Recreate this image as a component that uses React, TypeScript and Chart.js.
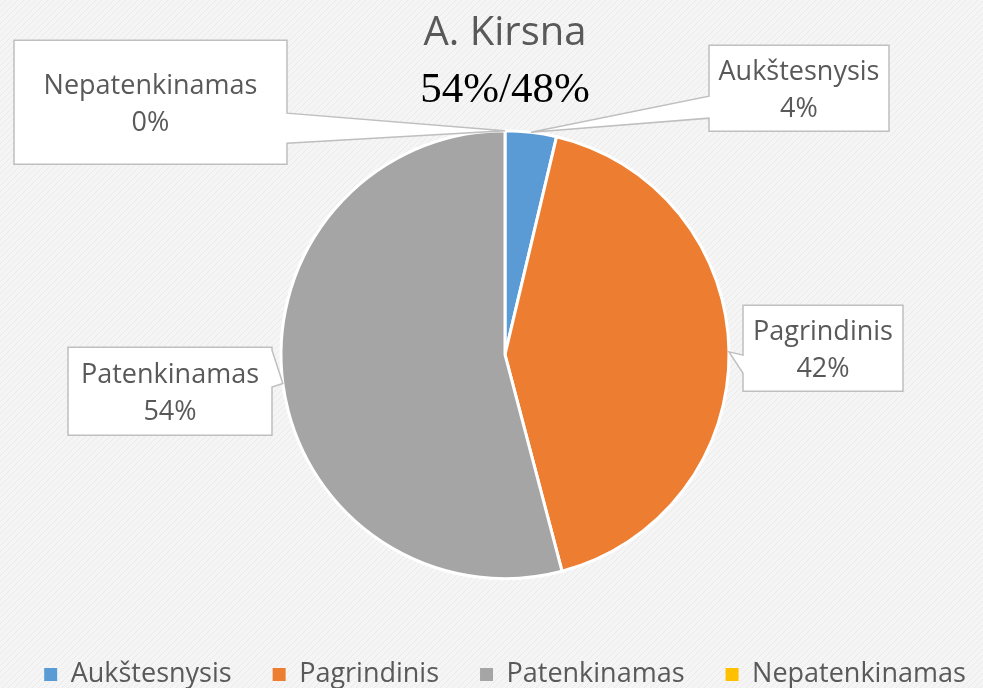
import { useEffect, useRef } from 'react';
import { Chart, registerables, DoughnutController } from 'chart.js';

Chart.register(...registerables);

const TITLE = 'A. Kirsna';
const SUBTITLE = '54%/48%';
const CATEGORIES = ['Aukštesnysis', 'Pagrindinis', 'Patenkinamas', 'Nepatenkinamas'];
const VALUES = [3.7, 42.2, 54.1, 0];
const COLORS = ['#5B9BD5', '#ED7D31', '#A5A5A5', '#FFC000'];

// Callout boxes (label annotations), placed relative to the pie centre
const CALLOUT_BOXES = [
  { dx: 204, dy: -309.5, w: 180, h: 86, side: 'left', a1: 51, a2: 73 },
  { dx: 238, dy: -49.5, w: 160, h: 86, side: 'left', a1: 50, a2: 68 },
  { dx: -437, dy: -7.5, w: 204, h: 88, side: 'right', a1: 3, a2: 40 },
  { dx: -491, dy: -314.5, w: 273, h: 124, side: 'right', a1: 73, a2: 103 },
];

const TEXT_COLOR = '#595959';
const SANS = '"Open Sans", "Noto Sans", sans-serif';

// The drawing surface is slightly larger than the visible frame (the frame clips it),
// so the plot sits where it does in the original picture.
const VIEW_W = 983;
const VIEW_H = 688;
const CANVAS_W = 1010;
const CANVAS_H = 698;

const backgroundPlugin = {
  id: 'texturedBackground',
  beforeDraw(chart: any) {
    const { ctx, width, height } = chart;
    const tile = document.createElement('canvas');
    tile.width = 6;
    tile.height = 6;
    const t = tile.getContext('2d')!;
    t.fillStyle = '#f5f5f5';
    t.fillRect(0, 0, 6, 6);
    t.strokeStyle = '#eaeaea';
    t.lineWidth = 1;
    t.beginPath();
    t.moveTo(0, 6);
    t.lineTo(6, 0);
    t.stroke();
    const pattern = ctx.createPattern(tile, 'repeat');
    ctx.save();
    ctx.fillStyle = pattern || '#f4f4f4';
    ctx.fillRect(0, 0, width, height);
    ctx.restore();
  },
};

const calloutPlugin = {
  id: 'callouts',
  afterDatasetsDraw(chart: any) {
    const { ctx } = chart;
    const meta = chart.getDatasetMeta(0);
    const data = chart.data.datasets[0].data as number[];
    const total = data.reduce((a, b) => a + b, 0);
    meta.data.forEach((arc: any, i: number) => {
      const c = CALLOUT_BOXES[i];
      if (!c) return;
      const { x, y, startAngle, endAngle, outerRadius } = arc.getProps(
        ['x', 'y', 'startAngle', 'endAngle', 'outerRadius'],
        true
      );
      const mid = (startAngle + endAngle) / 2;
      const tx = x + Math.cos(mid) * outerRadius;
      const ty = y + Math.sin(mid) * outerRadius;
      const bx = x + c.dx;
      const by = y + c.dy;
      ctx.save();
      ctx.beginPath();
      if (c.side === 'left') {
        ctx.moveTo(bx, by);
        ctx.lineTo(bx + c.w, by);
        ctx.lineTo(bx + c.w, by + c.h);
        ctx.lineTo(bx, by + c.h);
        ctx.lineTo(bx, by + c.a2);
        ctx.lineTo(tx, ty);
        ctx.lineTo(bx, by + c.a1);
      } else {
        ctx.moveTo(bx, by);
        ctx.lineTo(bx + c.w, by);
        ctx.lineTo(bx + c.w, by + c.a1);
        ctx.lineTo(tx, ty);
        ctx.lineTo(bx + c.w, by + c.a2);
        ctx.lineTo(bx + c.w, by + c.h);
        ctx.lineTo(bx, by + c.h);
      }
      ctx.closePath();
      ctx.fillStyle = '#ffffff';
      ctx.fill();
      ctx.strokeStyle = '#bfbfbf';
      ctx.lineWidth = 1.5;
      ctx.lineJoin = 'miter';
      ctx.stroke();

      const pct = total ? Math.round((data[i] / total) * 100) : 0;
      ctx.fillStyle = TEXT_COLOR;
      ctx.font = `27px ${SANS}`;
      ctx.textAlign = 'center';
      ctx.textBaseline = 'middle';
      const cx = bx + c.w / 2;
      const cy = by + c.h / 2;
      ctx.fillText(chart.data.labels[i], cx, cy - 15.5);
      ctx.fillText(pct + '%', cx, cy + 21.5);
      ctx.restore();
    });
  },
};

export default function App() {
  const ref = useRef<HTMLCanvasElement | null>(null);

  useEffect(() => {
    const canvas = ref.current;
    if (!canvas) return;
    const baseLabels = (DoughnutController as any).overrides.plugins.legend.labels.generateLabels;
    const chart = new Chart(canvas, {
      type: 'pie',
      data: {
        labels: CATEGORIES,
        datasets: [
          {
            data: VALUES,
            backgroundColor: COLORS,
            borderColor: '#ffffff',
            borderWidth: 3,
            radius: 224,
          } as any,
        ],
      },
      options: {
        responsive: false,
        animation: false,
        devicePixelRatio: 1,
        layout: { padding: 0 },
        plugins: {
          tooltip: { enabled: false },
          title: {
            display: true,
            text: TITLE,
            color: TEXT_COLOR,
            font: { family: SANS, size: 40, weight: 'normal', lineHeight: 1.2 },
            padding: { top: 10, bottom: 30.3 },
          },
          subtitle: {
            display: true,
            text: SUBTITLE,
            color: '#000000',
            font: { family: '"Liberation Serif", "Times New Roman", serif', size: 43, weight: 'normal', lineHeight: 0.1 },
            padding: { top: 0, bottom: 0 },
          },
          legend: {
            display: true,
            position: 'bottom',
            title: { display: true, text: '', font: { size: 3, lineHeight: 1.1 }, padding: 0 },
            labels: {
              color: TEXT_COLOR,
              font: { family: SANS, size: 27 },
              boxWidth: 13,
              boxHeight: 13,
              padding: 41,
              generateLabels: (c: any) =>
                baseLabels(c).map((it: any) => ({ ...it, lineWidth: 0 })),
            },
          },
        },
      },
      plugins: [backgroundPlugin, calloutPlugin],
    });
    return () => chart.destroy();
  }, []);

  return (
    <div style={{ position: 'fixed', left: 0, top: 0, width: VIEW_W, height: VIEW_H, overflow: 'hidden' }}>
      <canvas ref={ref} width={CANVAS_W} height={CANVAS_H} style={{ display: 'block' }} />
    </div>
  );
}
